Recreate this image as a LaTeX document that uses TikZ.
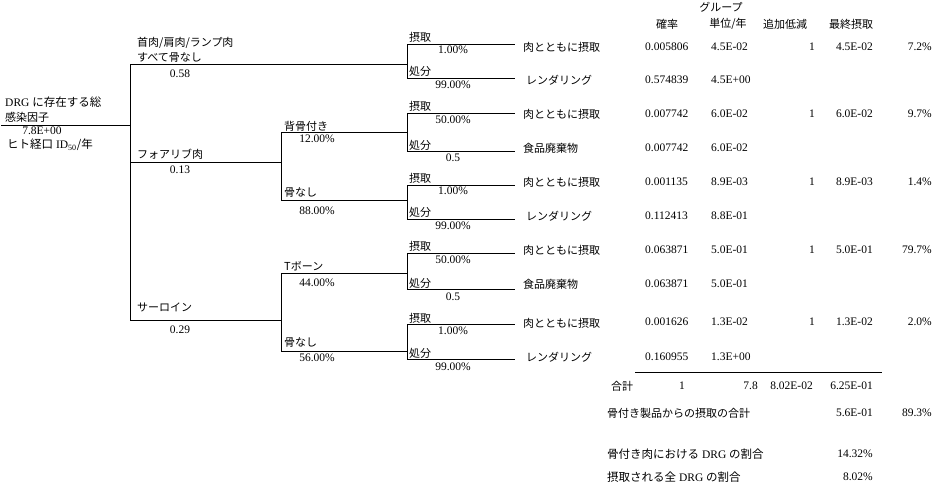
\documentclass[tikz,border=0pt]{standalone}
\usepackage{fontspec}
\setmainfont{Liberation Serif}
\newfontfamily\jp{Noto Sans CJK JP}
\begin{document}
\begin{tikzpicture}[x=1pt,y=-1pt,
  ln/.style={line width=1pt},
  jt/.style={font=\jp\fontsize{11}{12}\selectfont, inner sep=0pt, anchor=west},
  nt/.style={font=\fontsize{11.5}{12}\selectfont, inner sep=0pt},
  ntw/.style={nt, anchor=west},
  nte/.style={nt, anchor=east},
  term/.style={font=\jp\fontsize{11}{12}\selectfont, inner xsep=8pt, inner ysep=0pt, anchor=west},
]
\useasboundingbox[fill=white] (0,0) rectangle (938,488);

% ---------- junction coordinates ----------
\coordinate (R0) at (1,125);
\coordinate (R1) at (130,125);
\coordinate (V1a) at (130,64);
\coordinate (V1b) at (130,162);
\coordinate (V1c) at (130,320);
% branch A
\coordinate (A) at (407,64);
\coordinate (A1) at (407,44);
\coordinate (A2) at (407,78);
% branch B
\coordinate (B) at (281,162);
\coordinate (B1) at (281,132);
\coordinate (B2) at (281,200);
\coordinate (C) at (407,132);
\coordinate (C1) at (407,113);
\coordinate (C2) at (407,151);
\coordinate (D) at (407,200);
\coordinate (D1) at (407,185);
\coordinate (D2) at (407,219);
% branch E
\coordinate (E) at (281,320);
\coordinate (E1) at (281,273);
\coordinate (E2) at (281,351);
\coordinate (F) at (407,273);
\coordinate (F1) at (407,253);
\coordinate (F2) at (407,289);
\coordinate (G) at (407,351);
\coordinate (G1) at (407,324);
\coordinate (G2) at (407,359);

% ---------- terminal labels ----------
\node[term] (t1) at (515,47) {肉とともに摂取};
\node[term] (t2) at (515,80) {\hspace{3pt}レンダリング};
\node[term] (t3) at (515,114) {肉とともに摂取};
\node[term] (t4) at (515,148) {食品廃棄物};
\node[term] (t5) at (515,182) {肉とともに摂取};
\node[term] (t6) at (515,216) {\hspace{3pt}レンダリング};
\node[term] (t7) at (515,250) {肉とともに摂取};
\node[term] (t8) at (515,284) {食品廃棄物};
\node[term] (t9) at (515,323) {肉とともに摂取};
\node[term] (t10) at (515,357) {\hspace{3pt}レンダリング};

% ---------- tree lines ----------
\draw[ln] (R0) -- (R1);
\draw[ln] (V1a) -- (V1c);
\draw[ln] (V1a) -- (A);
\draw[ln] (A1) -- (A2);
\draw[ln] (A1) -- (A1 -| t1.west);
\draw[ln] (A2) -- (A2 -| t2.west);
\draw[ln] (V1b) -- (B);
\draw[ln] (B1) -- (B2);
\draw[ln] (B1) -- (C);
\draw[ln] (C1) -- (C2);
\draw[ln] (C1) -- (C1 -| t3.west);
\draw[ln] (C2) -- (C2 -| t4.west);
\draw[ln] (B2) -- (D);
\draw[ln] (D1) -- (D2);
\draw[ln] (D1) -- (D1 -| t5.west);
\draw[ln] (D2) -- (D2 -| t6.west);
\draw[ln] (V1c) -- (E);
\draw[ln] (E1) -- (E2);
\draw[ln] (E1) -- (F);
\draw[ln] (F1) -- (F2);
\draw[ln] (F1) -- (F1 -| t7.west);
\draw[ln] (F2) -- (F2 -| t8.west);
\draw[ln] (E2) -- (G);
\draw[ln] (G1) -- (G2);
\draw[ln] (G1) -- (G1 -| t9.west);
\draw[ln] (G2) -- (G2 -| t10.west);

% ---------- root labels ----------
\node[ntw] (root1) at (5,102) {DRG {\jp に存在する総}};
\node[jt] (root2) at (5,117) {感染因子};
\node[nt] (root3) at (42,131) {7.8E+00};
\node[ntw] (root4) at (7,145) {{\jp ヒト経口} ID\textsubscript{50}{\jp /年}};

% ---------- level 1 labels ----------
\node[jt] (l1a) at (137,43) {首肉/肩肉/ランプ肉};
\node[jt] (l1b) at (137,58) {すべて骨なし};
\node[nt] (l1c) at (180,74) {0.58};
\node[jt] (l1d) at (137,154) {フォアリブ肉};
\node[nt] (l1e) at (180,170) {0.13};
\node[jt] (l1f) at (137,307) {サーロイン};
\node[nt] (l1g) at (180,330) {0.29};

% ---------- level 2 labels ----------
\node[jt] (l2a) at (284,126) {背骨付き};
\node[nt] (l2b) at (317,139) {12.00\%};
\node[jt] (l2c) at (284,193) {骨なし};
\node[nt] (l2d) at (317,211) {88.00\%};
\node[jt] (l2e) at (284,266) {Tボーン};
\node[nt] (l2f) at (317,283) {44.00\%};
\node[jt] (l2g) at (284,343) {骨なし};
\node[nt] (l2h) at (317,358) {56.00\%};

% ---------- level 3 labels ----------
\node[jt] (s1) at (409,37) {摂取};
\node[nt] (s1p) at (453,50) {1.00\%};
\node[jt] (d1) at (409,71) {処分};
\node[nt] (d1p) at (453,85) {99.00\%};
\node[jt] (s2) at (409,106) {摂取};
\node[nt] (s2p) at (453,120) {50.00\%};
\node[jt] (d2) at (409,145) {処分};
\node[nt] (d2p) at (453,158) {0.5};
\node[jt] (s3) at (409,178) {摂取};
\node[nt] (s3p) at (453,191) {1.00\%};
\node[jt] (d3) at (409,212) {処分};
\node[nt] (d3p) at (453,226) {99.00\%};
\node[jt] (s4) at (409,246) {摂取};
\node[nt] (s4p) at (453,260) {50.00\%};
\node[jt] (d4) at (409,283) {処分};
\node[nt] (d4p) at (453,297) {0.5};
\node[jt] (s5) at (409,318) {摂取};
\node[nt] (s5p) at (453,331) {1.00\%};
\node[jt] (d5) at (409,353) {処分};
\node[nt] (d5p) at (453,367) {99.00\%};

% ---------- table headers ----------
\node[jt, anchor=center] (h0) at (721,7) {グループ};
\node[jt, anchor=center] (h1) at (667,24) {確率};
\node[jt, anchor=center] (h2) at (728,24) {単位/年};
\node[jt, anchor=center] (h3) at (785,24) {追加低減};
\node[jt, anchor=center] (h4) at (851,24) {最終摂取};

% ---------- table rows ----------
\node[ntw] (p1) at (645,47) {0.005806};
\node[ntw] (p2) at (645,80) {0.574839};
\node[ntw] (p3) at (645,114) {0.007742};
\node[ntw] (p4) at (645,148) {0.007742};
\node[ntw] (p5) at (645,182) {0.001135};
\node[ntw] (p6) at (645,216) {0.112413};
\node[ntw] (p7) at (645,250) {0.063871};
\node[ntw] (p8) at (645,284) {0.063871};
\node[ntw] (p9) at (645,322) {0.001626};
\node[ntw] (p10) at (645,357) {0.160955};

\node[ntw] (u1) at (711,47) {4.5E-02};
\node[ntw] (u2) at (711,80) {4.5E+00};
\node[ntw] (u3) at (711,114) {6.0E-02};
\node[ntw] (u4) at (711,148) {6.0E-02};
\node[ntw] (u5) at (711,182) {8.9E-03};
\node[ntw] (u6) at (711,216) {8.8E-01};
\node[ntw] (u7) at (711,250) {5.0E-01};
\node[ntw] (u8) at (711,284) {5.0E-01};
\node[ntw] (u9) at (711,322) {1.3E-02};
\node[ntw] (u10) at (711,357) {1.3E+00};

\node[nt] (k1) at (812,47) {1};
\node[nt] (k3) at (812,114) {1};
\node[nt] (k5) at (812,182) {1};
\node[nt] (k7) at (812,250) {1};
\node[nt] (k9) at (812,322) {1};

\node[nte] (f1) at (873,47) {4.5E-02};
\node[nte] (f3) at (873,114) {6.0E-02};
\node[nte] (f5) at (873,182) {8.9E-03};
\node[nte] (f7) at (873,250) {5.0E-01};
\node[nte] (f9) at (873,322) {1.3E-02};

\node[nte] (q1) at (932,47) {7.2\%};
\node[nte] (q3) at (932,114) {9.7\%};
\node[nte] (q5) at (932,182) {1.4\%};
\node[nte] (q7) at (932,250) {79.7\%};
\node[nte] (q9) at (932,322) {2.0\%};

% ---------- totals ----------
\coordinate (L1) at (635,372);
\coordinate (L2) at (882,372);
\draw[ln] (L1) -- (L2);
\node[jt, anchor=center] (tot) at (622,386) {合計};
\node[nt] (tot1) at (682,386) {1};
\node[nte] (tot2) at (758,386) {7.8};
\node[nte] (tot3) at (813,386) {8.02E-02};
\node[nte] (tot4) at (873,386) {6.25E-01};

\node[jt] (b1) at (607,413) {骨付き製品からの摂取の合計};
\node[nte] (b1v) at (873,413) {5.6E-01};
\node[nte] (b1p) at (932,413) {89.3\%};
\node[ntw] (b2) at (607,454) {{\jp 骨付き肉における} DRG {\jp の割合}};
\node[nte] (b2v) at (873,454) {14.32\%};
\node[ntw] (b3) at (607,477) {{\jp 摂取される全} DRG {\jp の割合}};
\node[nte] (b3v) at (873,477) {8.02\%};
\end{tikzpicture}
\end{document}
